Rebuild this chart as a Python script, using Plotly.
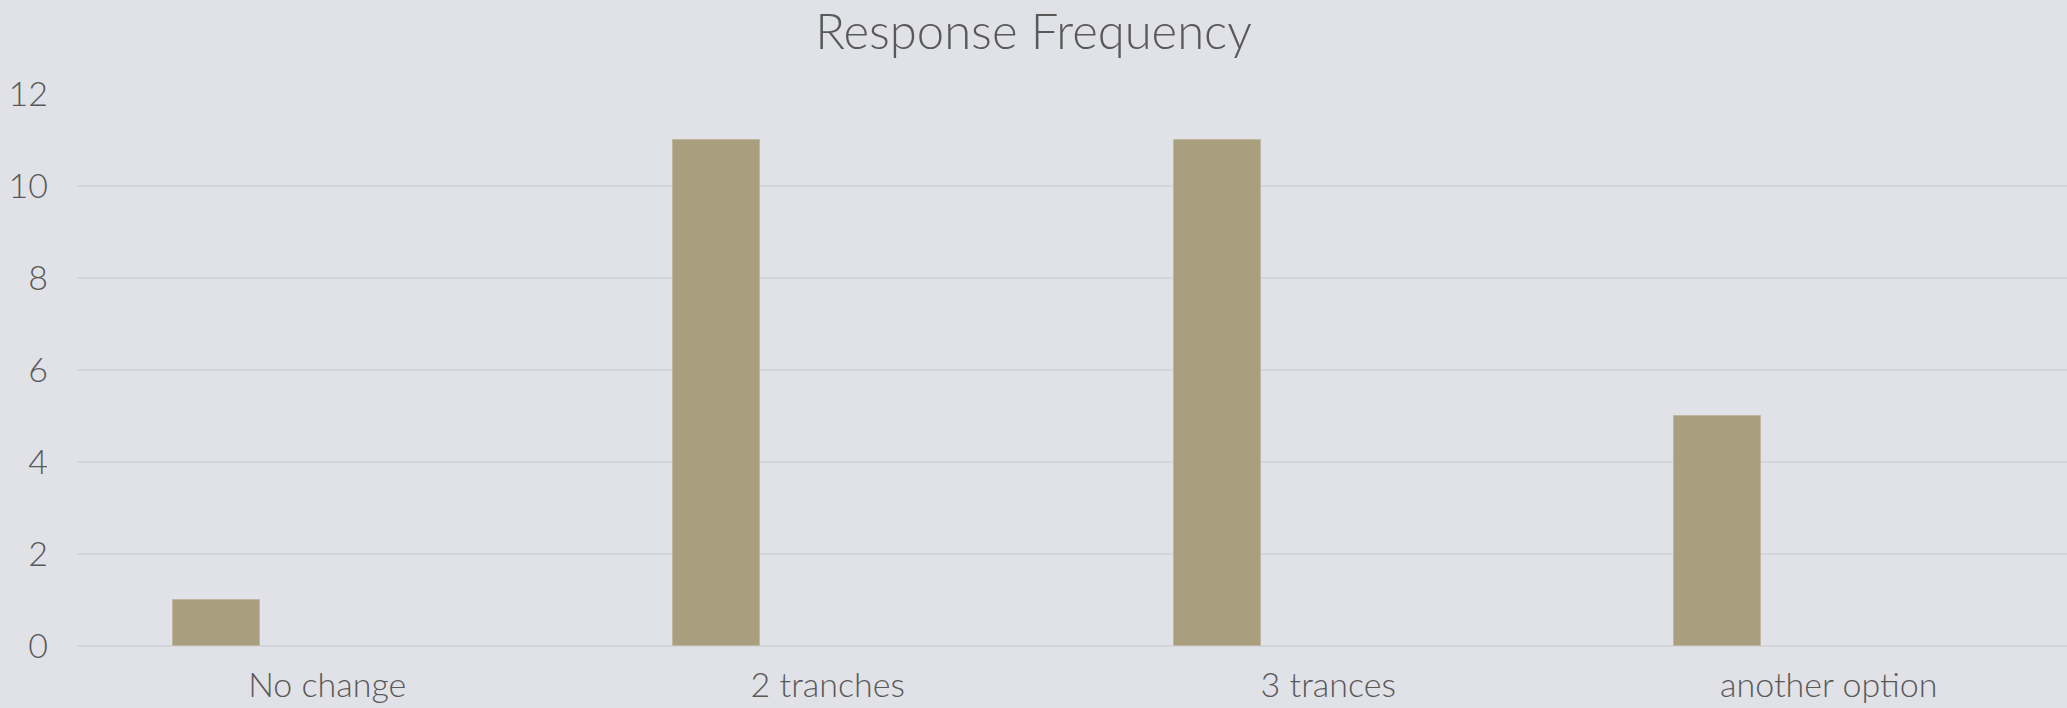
import plotly.graph_objects as go

categories = ["No change", "2 tranches", "3 trances", "another option"]
counts = [1, 11, 11, 5]
y_ticks = [0, 2, 4, 6, 8, 10, 12]

BG = "#e1e2e7"
BAR = "#a99e7e"
GRID = "#d5d6db"
TXT = "#595959"
FONT = "Lato"

fig = go.Figure()
fig.add_trace(go.Bar(
    x=categories, y=counts,
    width=0.174, offset=-0.309,
    marker=dict(color=BAR, line=dict(color="#bfb7a0", width=1)),
    hoverinfo="x+y", showlegend=False,
))

fig.update_layout(
    width=2067, height=708, autosize=False,
    paper_bgcolor=BG, plot_bgcolor=BG,
    margin=dict(l=77, r=0, t=94, b=62),
    font=dict(family=FONT, color=TXT, size=34, weight=300),
    title=dict(text="Response Frequency", x=0.5, xanchor="center",
               y=0.955, yanchor="middle",
               font=dict(family=FONT, size=49, color=TXT, weight=300)),
    xaxis=dict(range=[-0.5, 3.476], showgrid=False, zeroline=False,
               showline=False, ticks="",
               tickfont=dict(family=FONT, size=34, color=TXT, weight=300),
               ticklabelstandoff=16),
    yaxis=dict(range=[0, 12], tickvals=y_ticks, showgrid=True,
               gridcolor=GRID, gridwidth=2, zeroline=True,
               zerolinecolor=GRID, zerolinewidth=2, showline=False,
               ticks="",
               tickfont=dict(family=FONT, size=34, color=TXT, weight=300),
               ticklabelstandoff=28),
    bargap=0,
)

fig.write_html("out.html", config={"displayModeBar": False},
               post_script="document.body.style.margin='0';document.body.style.padding='0';")
